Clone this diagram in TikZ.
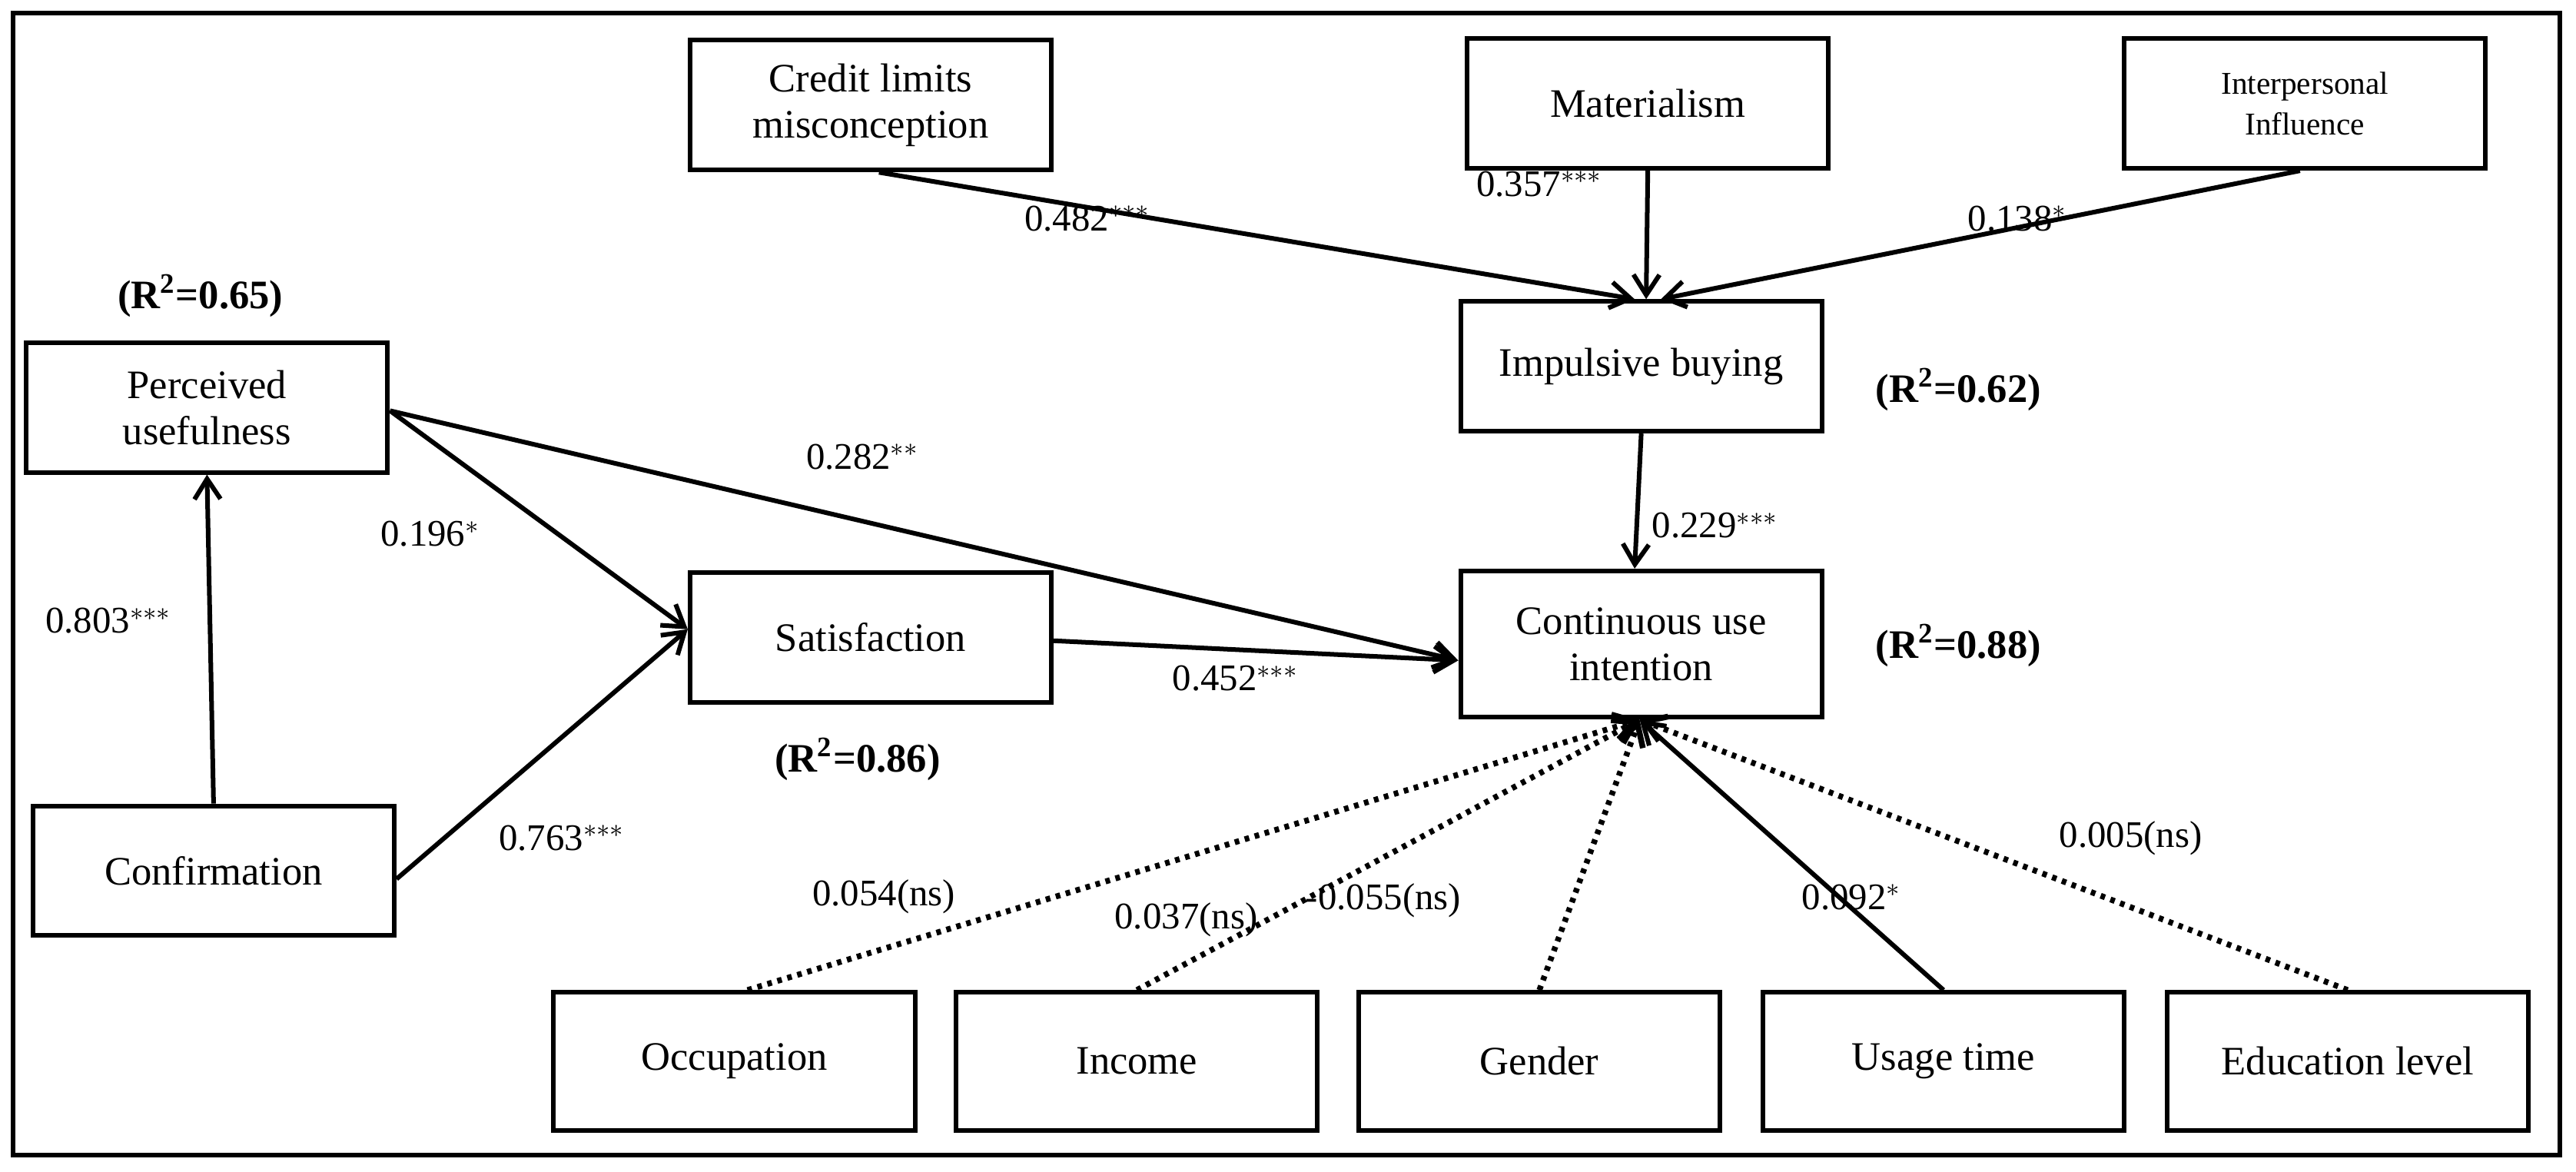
\documentclass[tikz,border=0pt]{standalone}
\usepackage{fontspec}
\setmainfont{Liberation Serif}
\usetikzlibrary{arrows.meta,calc}
\begin{document}
\begin{tikzpicture}[x=0.02cm,y=-0.02cm,
  box/.style={draw,line width=1.6pt,minimum width=4.4cm,minimum height=1.58cm,align=center,font=\fontsize{14}{16}\selectfont,inner sep=2pt},
  arr/.style={line width=1.6pt,-{Straight Barb[length=7pt,width=9pt]}},
  dot/.style={arr,dotted,line width=2pt},
  lab/.style={font=\fontsize{13}{15}\selectfont},
  rr/.style={font=\bfseries\fontsize{14}{16}\selectfont}]
\useasboundingbox (0,0) rectangle (1568,713);
\draw[line width=1.6pt] (8,8) rectangle (1558,703);
\node[box] (cl) at (530,64) {Credit limits\\misconception};
\node[box] (ma) at (1003,63) {Materialism};
\node[box,font=\fontsize{11}{14}\selectfont] (ii) at (1403,63) {Interpersonal\\Influence};
\node[box] (ib) at (999,223) {Impulsive buying};
\node[box] (pu) at (126,248) {Perceived\\usefulness};
\node[box] (sa) at (530,388) {Satisfaction};
\node[box,minimum height=1.78cm] (cu) at (999,392) {Continuous use\\intention};
\node[box] (co) at (130,530) {Confirmation};
\node[box,minimum height=1.68cm] (oc) at (447,646) {Occupation};
\node[box,minimum height=1.68cm] (in) at (692,646) {Income};
\node[box,minimum height=1.68cm] (ge) at (937,646) {Gender};
\node[box,minimum height=1.68cm] (ut) at (1183,646) {Usage time};
\node[box,minimum height=1.68cm] (ed) at (1429,646) {Education level};
\coordinate (cub) at (998,438);
\draw[arr] ($(cl.south)+(5,0)$) -- ($(ib.north)+(-4,0)$);
\draw[arr] (ma.south) -- ($(ib.north)+(3,0)$);
\draw[arr] ($(ii.south)+(-3,0)$) -- ($(ib.north)+(12,0)$);
\draw[arr] (ib.south) -- ($(cu.north)+(-4,0)$);
\draw[arr] ($(pu.east)+(0,2)$) -- ($(cu.west)+(0,10)$);
\draw[arr] ($(pu.east)+(0,2)$) -- ($(sa.west)+(0,-5)$);
\draw[arr] (co.north) -- (pu.south);
\draw[arr] ($(co.east)+(0,5)$) -- ($(sa.west)+(0,-5)$);
\draw[arr] ($(sa.east)+(0,2)$) -- ($(cu.west)+(0,10)$);
\draw[dot] ($(oc.north)+(8,0)$) -- (cub);
\draw[dot] (in.north) -- (cub);
\draw[dot] (ge.north) -- (cub);
\draw[arr] (ut.north) -- (cub);
\draw[dot] (ed.north) -- (cub);
\node[lab] (l1) at (662,133) {0.482$^{***}$};
\node[lab] (l2) at (937,112) {0.357$^{***}$};
\node[lab] (l3) at (1228,133) {0.138$^{*}$};
\node[rr] (r1) at (122,180) {(R\textsuperscript{2}=0.65)};
\node[lab] (l4) at (525,278) {0.282$^{**}$};
\node[lab] (l5) at (262,325) {0.196$^{*}$};
\node[lab] (l6) at (66,378) {0.803$^{***}$};
\node[rr] (r2) at (1192,237) {(R\textsuperscript{2}=0.62)};
\node[lab] (l7) at (1044,320) {0.229$^{***}$};
\node[rr] (r3) at (1192,393) {(R\textsuperscript{2}=0.88)};
\node[lab] (l8) at (752,413) {0.452$^{***}$};
\node[rr] (r4) at (522,462) {(R\textsuperscript{2}=0.86)};
\node[lab] (l9) at (342,510) {0.763$^{***}$};
\node[lab] (la) at (538,546) {0.054(ns)};
\node[lab] (lb) at (722,560) {0.037(ns)};
\node[lab] (lc) at (842,548) {-0.055(ns)};
\node[lab] (ld) at (1127,546) {0.092$^{*}$};
\node[lab] (le) at (1297,510) {0.005(ns)};
\end{tikzpicture}
\end{document}
